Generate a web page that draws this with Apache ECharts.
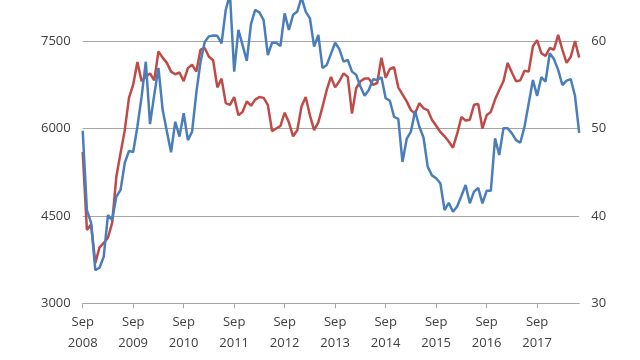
<!DOCTYPE html>
<html>
<head>
<meta charset="utf-8">
<script src="https://cdn.jsdelivr.net/npm/echarts@6/dist/echarts.min.js"></script>
<style>
html,body{margin:0;padding:0;background:#fff;}
#chart{width:640px;height:360px;}
</style>
</head>
<body>
<div id="chart"></div>
<script>
// Monthly categories: Sep 2008 .. Jul 2018
var startYear = 2008, startMonth = 8, monthCount = 119;
var monthNames = ['Jan','Feb','Mar','Apr','May','Jun','Jul','Aug','Sep','Oct','Nov','Dec'];
var categories = [];
for (var k = 0; k < monthCount; k++) {
  var m = (startMonth + k) % 12;
  var y = startYear + Math.floor((startMonth + k) / 12);
  categories.push(monthNames[m] + '\n' + y);
}

// Left axis series (blue)
var blueSeries = [
  5960, 4600, 4380, 3570, 3610, 3800, 4515, 4430, 4830, 4945,
  5410, 5615, 5595, 6030, 6545, 7145, 6075, 6575, 7040, 6320,
  5950, 5590, 6115, 5860, 6260, 5800, 5945, 6610, 7140, 7485,
  7580, 7595, 7590, 7460, 8035, 8300, 6975, 7690, 7430, 7160,
  7795, 8035, 7990, 7860, 7260, 7470, 7470, 7415, 7975, 7690,
  7950, 8005, 8250, 8005, 7890, 7405, 7605, 7035, 7090, 7280,
  7470, 7360, 7145, 7175, 6975, 6920, 6720, 6560, 6660, 6845,
  6830, 6880, 6520, 6475, 6200, 6165, 5425, 5820, 5945, 6300,
  6030, 5845, 5340, 5195, 5145, 5060, 4600, 4725, 4570, 4660,
  4840, 5030, 4715, 4915, 4980, 4715, 4930, 4930, 5830, 5545,
  6005, 6005, 5915, 5800, 5755, 6030, 6430, 6830, 6560, 6880,
  6805, 7290, 7190, 7005, 6745, 6820, 6845, 6560, 5925
];

// Right axis series (red)
var redSeries = [
  47.3, 38.4, 39.0, 34.6, 36.4, 36.9, 37.5, 39.2, 44.5, 47.2,
  49.8, 53.5, 55.0, 57.6, 55.4, 55.9, 56.3, 55.5, 58.8, 58.1,
  57.5, 56.5, 56.2, 56.4, 55.4, 56.9, 57.3, 56.5, 59.0, 59.2,
  58.2, 57.8, 54.7, 55.7, 52.9, 52.7, 53.6, 51.5, 51.9, 53.1,
  52.6, 53.3, 53.6, 53.5, 52.7, 49.7, 50.0, 50.3, 51.8, 50.7,
  49.1, 49.8, 52.5, 53.6, 51.5, 49.8, 50.7, 52.5, 54.4, 55.9,
  54.7, 55.4, 56.3, 55.9, 51.7, 54.6, 55.4, 55.7, 55.7, 55.0,
  55.2, 58.1, 55.8, 56.8, 57.0, 54.7, 53.9, 53.1, 52.1, 51.7,
  52.9, 52.3, 52.1, 51.0, 50.3, 49.6, 49.1, 48.5, 47.8, 49.4,
  51.3, 50.9, 51.0, 52.7, 52.8, 50.0, 51.5, 51.9, 53.3, 54.4,
  55.4, 57.5, 56.4, 55.4, 55.5, 56.6, 56.5, 59.4, 60.1, 58.6,
  58.3, 59.2, 59.0, 60.7, 59.0, 57.5, 58.2, 60.0, 58.1
];

var leftTicks = {min: 3000, max: 9000, interval: 1500};
var rightTicks = {min: 30, max: 70, interval: 10};

var labelFont = {fontFamily: 'Open Sans', fontSize: 13, color: '#404040'};
function plain(v) { return String(v); }

var chart = echarts.init(document.getElementById('chart'), null, {renderer: 'canvas'});
chart.setOption({
  animation: false,
  backgroundColor: '#ffffff',
  grid: {left: 82.7, right: 60.8, top: -46.4, bottom: 56.7, containLabel: false, outerBoundsMode: 'none'},
  xAxis: {
    type: 'category',
    data: categories,
    boundaryGap: false,
    axisLine: {show: true, lineStyle: {color: '#a6a6a6', width: 1}},
    axisTick: {show: true, interval: 11, length: 5, inside: false, lineStyle: {color: '#a6a6a6'}},
    axisLabel: Object.assign({interval: 11, margin: 8, lineHeight: 21}, labelFont),
    splitLine: {show: false}
  },
  yAxis: [
    {
      type: 'value', position: 'left',
      min: leftTicks.min, max: leftTicks.max, interval: leftTicks.interval,
      axisLine: {show: false}, axisTick: {show: false},
      axisLabel: Object.assign({margin: 12, formatter: plain}, labelFont),
      splitLine: {show: true, lineStyle: {color: '#a6a6a6', width: 1}}
    },
    {
      type: 'value', position: 'right',
      min: rightTicks.min, max: rightTicks.max, interval: rightTicks.interval,
      axisLine: {show: false}, axisTick: {show: false},
      axisLabel: Object.assign({margin: 12, formatter: plain}, labelFont),
      splitLine: {show: false}
    }
  ],
  series: [
    {
      type: 'line', yAxisIndex: 1, data: redSeries,
      showSymbol: false, symbol: 'none',
      lineStyle: {color: '#be4b48', width: 2.5}, itemStyle: {color: '#be4b48'}
    },
    {
      type: 'line', yAxisIndex: 0, data: blueSeries,
      showSymbol: false, symbol: 'none',
      lineStyle: {color: '#4a7ebb', width: 2.5}, itemStyle: {color: '#4a7ebb'}
    }
  ]
});
</script>
</body>
</html>
